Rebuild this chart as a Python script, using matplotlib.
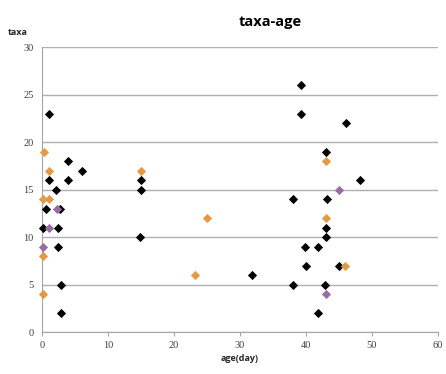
import matplotlib.pyplot as plt

# Data
black_age = [1, 4, 6, 4, 1, 2.2, 0.6, 2.7, 0.2, 2.4, 2.4, 2.9, 2.9,
             15, 15, 14.9, 31.8,
             39.3, 39.3, 46, 43.1, 48.2, 38.1, 43.2, 43, 43, 39.9, 41.8,
             40, 45, 38, 42.9, 41.8]
black_taxa = [23, 18, 17, 16, 16, 15, 13, 13, 11, 11, 9, 5, 2,
              16, 15, 10, 6,
              26, 23, 22, 19, 16, 14, 14, 11, 10, 9, 9,
              7, 7, 5, 5, 2]

orange_age = [0.3, 1.1, 0.1, 1.1, 0.1, 0.1, 15, 25, 23.2, 43, 43, 45.9]
orange_taxa = [19, 17, 14, 14, 8, 4, 17, 12, 6, 18, 12, 7]

purple_age = [2.3, 1.1, 0.1, 45, 43]
purple_taxa = [13, 11, 9, 15, 4]

plt.rcParams['font.family'] = ['Open Sans', 'DejaVu Sans']

fig = plt.figure(figsize=(4.46, 3.74), dpi=100)
ax = fig.add_axes([0.094, 0.112, 0.888, 0.762])

ax.scatter(black_age, black_taxa, marker="D", s=22, color="black", zorder=3,
           linewidths=0, clip_on=False)
ax.scatter(orange_age, orange_taxa, marker="D", s=22, color="#E39A45", zorder=3,
           linewidths=0, clip_on=False)
ax.scatter(purple_age, purple_taxa, marker="D", s=22, color="#9B6BA3", zorder=4,
           linewidths=0, clip_on=False)

ax.set_xlim(0, 60)
ax.set_ylim(0, 30)
ax.set_xticks(range(0, 61, 10))
ax.set_yticks(range(0, 31, 5))
ax.grid(axis="y", color="#B0B0B0", linewidth=1)
ax.set_axisbelow(True)

for side in ["top", "right"]:
    ax.spines[side].set_visible(False)
for side in ["left", "bottom"]:
    ax.spines[side].set_color("#A6A6A6")
ax.tick_params(axis="both", labelsize=7.5, colors="#404040", length=3,
               direction="out")
ax.tick_params(axis="y", length=0, pad=6)
ax.tick_params(axis="x", color="#A6A6A6")
for lbl in ax.get_xticklabels() + ax.get_yticklabels():
    lbl.set_family("Liberation Serif")

fig.text(0.605, 0.94, "taxa-age", ha="center", va="center",
         fontsize=10.5, fontweight="bold")
fig.text(0.04, 0.912, "taxa", ha="center", va="center", fontsize=6.5,
         fontweight="bold", color="#262626")
ax.set_xlabel("age(day)", fontsize=6.5, fontweight="bold", color="#262626",
              labelpad=3)

fig.savefig("out.png", dpi=100)
